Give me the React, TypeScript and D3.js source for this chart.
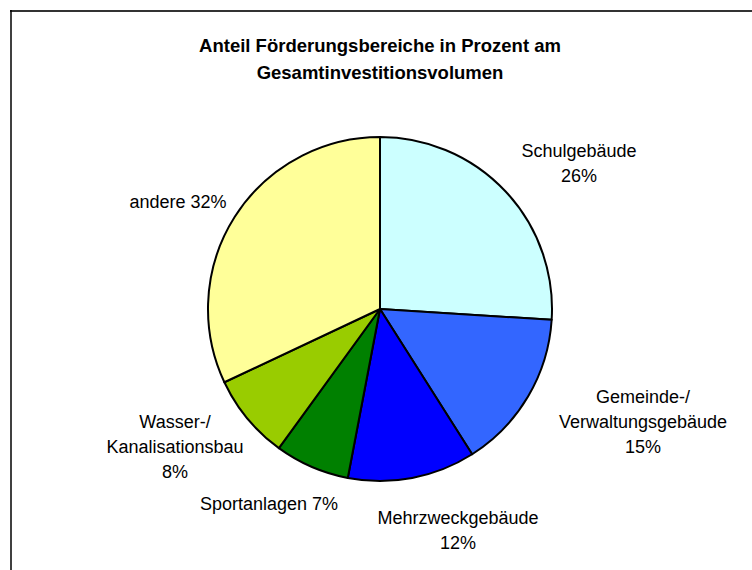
import React from "react";
import * as d3 from "d3";

const categories = ["Schulgebäude", "Gemeinde-/Verwaltungsgebäude", "Mehrzweckgebäude", "Sportanlagen", "Wasser-/Kanalisationsbau", "andere"];
const values = [26, 15, 12, 7, 8, 32];
const colors = ["#CCFFFF", "#3366FF", "#0000FF", "#008000", "#99CC00", "#FFFF99"];
const labelLines = [
  ["Schulgebäude", "26%"],
  ["Gemeinde-/", "Verwaltungsgebäude", "15%"],
  ["Mehrzweckgebäude", "12%"],
  ["Sportanlagen 7%"],
  ["Wasser-/", "Kanalisationsbau", "8%"],
  ["andere 32%"],
];
const titleLines = ["Anteil Förderungsbereiche in Prozent am", "Gesamtinvestitionsvolumen"];

// layout: label anchor (centre x, first baseline y)
const labelAnchors: [number, number][] = [
  [579, 157],
  [643, 403],
  [458, 524],
  [269, 510],
  [175, 428],
  [178, 208],
];

const W = 752, H = 570;
const cx = 380, cy = 309, R = 172;

export default function App() {
  const pie = d3.pie<number>().sort(null).value((d) => d)(values);
  const arc = d3.arc<d3.PieArcDatum<number>>().innerRadius(0).outerRadius(R);
  const font = "'Liberation Sans', Arial, sans-serif";
  return (
    <svg width={W} height={H} style={{ position: "absolute", left: 0, top: 0 }} fontFamily={font}>
      <rect x={0} y={0} width={W} height={H} fill="#fff" />
      <line x1={10} y1={11} x2={W} y2={11} stroke="#333" strokeWidth={2} />
      <line x1={11} y1={10} x2={11} y2={H} stroke="#000" strokeWidth={1.5} />
      {titleLines.map((t, i) => (
        <text key={i} x={380} y={52 + i * 27} textAnchor="middle" fontSize={18.5} fontWeight="bold" fill="#000">
          {t}
        </text>
      ))}
      <g transform={`translate(${cx},${cy})`}>
        {pie.map((p, i) => (
          <path key={categories[i]} d={arc(p) || ""} fill={colors[i]} stroke="#000" strokeWidth={2} strokeLinejoin="round" />
        ))}
      </g>
      {labelLines.map((lines, i) => (
        <text key={i} textAnchor="middle" fontSize={18} fill="#000">
          {lines.map((l, j) => (
            <tspan key={j} x={labelAnchors[i][0]} y={labelAnchors[i][1] + j * 24.8}>
              {l}
            </tspan>
          ))}
        </text>
      ))}
    </svg>
  );
}
